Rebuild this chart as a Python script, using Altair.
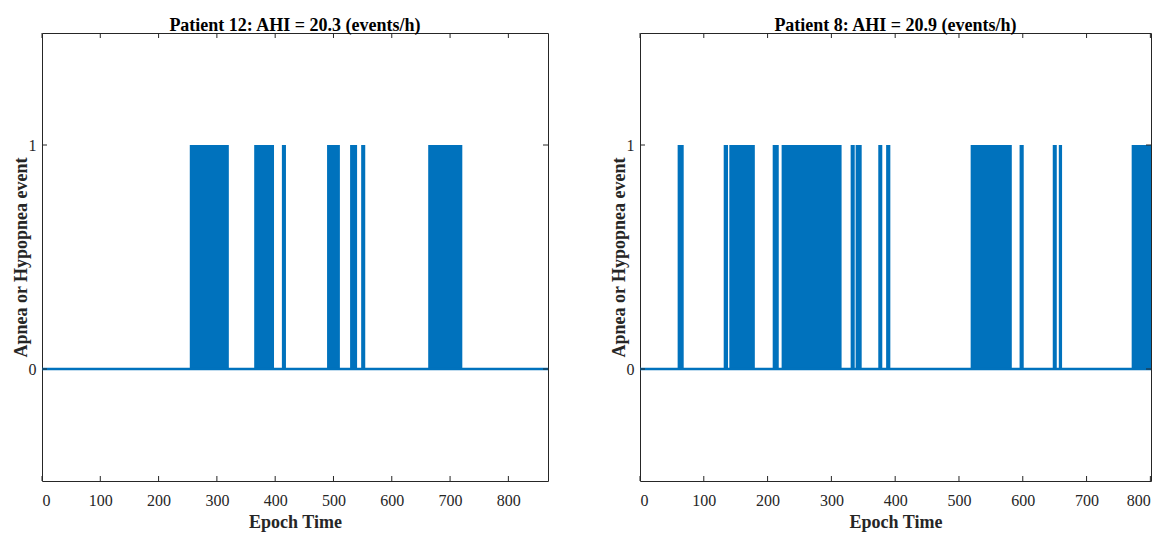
import altair as alt
import pandas as pd

BLUE = "#0072BD"
AX = "#262626"
FONT = "Liberation Serif"

# ---- data ----
titles = ["Patient 12: AHI = 20.3 (events/h)", "Patient 8: AHI = 20.9 (events/h)"]

p12_start = [253.5, 364.0, 411.5, 489.0, 528.5, 547.5, 662.5]
p12_end = [320.5, 398.0, 418.5, 511.0, 540.5, 554.5, 721.0]
p12_xmax = 868

p8_start = [59.0, 131.2, 140.0, 208.0, 222.0, 330.2, 338.0, 373.5, 385.8, 518.3, 595.0, 647.0, 656.5, 770.7]
p8_end = [68.5, 138.0, 180.0, 217.5, 316.0, 336.6, 347.5, 379.8, 392.4, 582.8, 601.5, 653.3, 661.6, 801.0]
p8_xmax = 801

x_ticks = [0, 100, 200, 300, 400, 500, 600, 700, 800]
y_ticks = [0, 1]
y_domain = [-0.5, 1.5]

H = 448


def panel(title, starts, ends, xmax, W):
    ev = pd.DataFrame({"start": starts, "end": ends, "y0": [0] * len(starts), "y1": [1] * len(starts)})
    xs = alt.Scale(domain=[0, xmax], nice=False, zero=False)
    ys = alt.Scale(domain=y_domain, nice=False, zero=False)
    common = dict(
        domain=False, ticks=False, grid=False, format="d",
        labelFont=FONT, labelFontSize=16, labelColor=AX,
        titleFont=FONT, titleFontSize=18, titleFontWeight="bold", titleColor=AX,
    )
    xax = alt.Axis(values=x_ticks, title="Epoch Time", labelPadding=11, titlePadding=5, **common)
    yax = alt.Axis(values=y_ticks, title="Apnea or Hypopnea event", labelPadding=6, titlePadding=-2, **common)

    rects = alt.Chart(ev).mark_rect(color=BLUE).encode(
        x=alt.X("start:Q", scale=xs, axis=xax),
        x2="end:Q",
        y=alt.Y("y0:Q", scale=ys, axis=yax),
        y2="y1:Q",
    )
    base_df = pd.DataFrame({"a": [0], "b": [xmax], "y": [0]})
    baseline = alt.Chart(base_df).mark_rule(color=BLUE, strokeWidth=2.7).encode(
        x="a:Q", x2="b:Q", y="y:Q"
    )
    xt = pd.DataFrame({"v": x_ticks})
    yt = pd.DataFrame({"v": y_ticks})
    tk_top = alt.Chart(xt).mark_rule(color=AX, strokeWidth=1).encode(
        x="v:Q", y=alt.value(0), y2=alt.value(5))
    tk_bot = alt.Chart(xt).mark_rule(color=AX, strokeWidth=1).encode(
        x="v:Q", y=alt.value(H - 5), y2=alt.value(H))
    tk_left = alt.Chart(yt).mark_rule(color=AX, strokeWidth=1).encode(
        y="v:Q", x=alt.value(0), x2=alt.value(5))
    tk_right = alt.Chart(yt).mark_rule(color=AX, strokeWidth=1).encode(
        y="v:Q", x=alt.value(W - 5), x2=alt.value(W))

    return alt.layer(rects, baseline, tk_top, tk_bot, tk_left, tk_right).properties(
        width=W, height=H,
        title=alt.TitleParams(title, font=FONT, fontSize=18, fontWeight="bold",
                              color="#000000", anchor="middle", offset=-2),
    )


p1 = panel(titles[0], p12_start, p12_end, p12_xmax, 506)
p2 = panel(titles[1], p8_start, p8_end, p8_xmax, 511)

chart = alt.hconcat(p1, p2, spacing=59).properties(
    padding={"left": 3, "top": 8, "right": 0, "bottom": 0}
).configure_view(
    stroke=AX, strokeWidth=1
)

chart.save("out.html", embed_options={"renderer": "svg", "actions": False})
